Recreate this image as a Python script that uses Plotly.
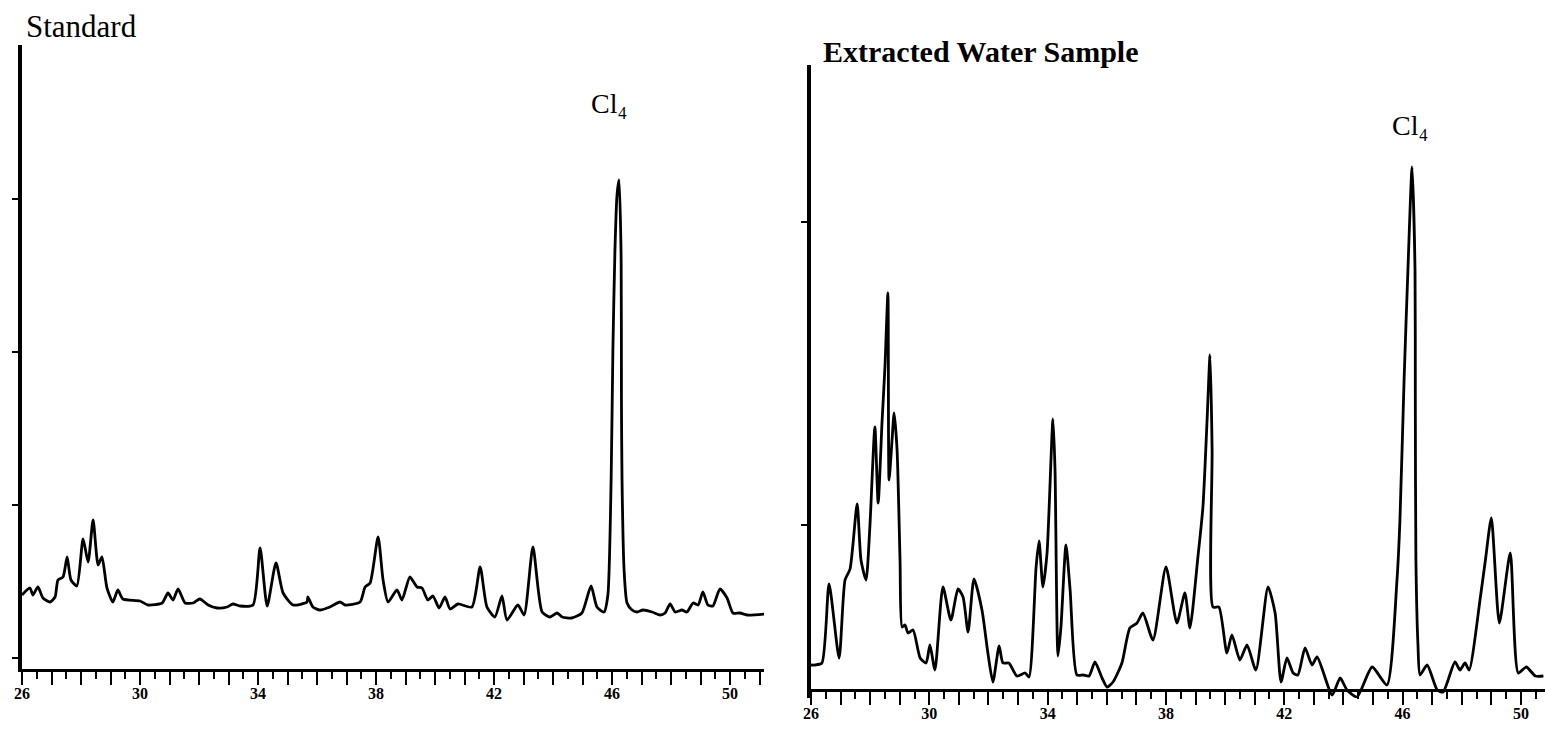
import plotly.graph_objects as go

# ---------------- data ----------------
# retention time (min) and detector response (arbitrary units)
std_time = [26.00, 26.27, 26.37, 26.54, 26.71, 26.95, 27.12, 27.22, 27.39, 27.53,
            27.66, 27.86, 28.07, 28.24, 28.41, 28.58, 28.71, 28.88, 29.08, 29.25,
            29.42, 30.00, 30.27, 30.75, 30.95, 31.12, 31.29, 31.53, 31.80, 32.03,
            32.31, 32.61, 32.95, 33.15, 33.39, 33.83, 34.07, 34.31, 34.61, 34.85,
            35.19, 35.66, 35.69, 35.86, 36.10, 36.44, 36.78, 36.95, 37.46, 37.63,
            37.80, 38.07, 38.24, 38.41, 38.71, 38.88, 39.15, 39.39, 39.56, 39.76,
            39.93, 40.14, 40.34, 40.51, 40.78, 41.25, 41.53, 41.76, 42.03, 42.27,
            42.44, 42.81, 43.02, 43.32, 43.63, 43.90, 44.14, 44.31, 44.64, 44.98,
            45.29, 45.49, 45.73, 45.86, 45.97, 46.03, 46.10, 46.17, 46.24, 46.31,
            46.32, 46.34, 46.41, 46.51, 46.68, 46.85, 47.05, 47.36, 47.63, 47.80,
            47.97, 48.14, 48.37, 48.54, 48.75, 48.92, 49.08, 49.25, 49.42, 49.66,
            49.90, 50.10, 50.34, 50.58, 51.19]
std_signal = [63, 70, 63, 71, 60, 56, 61, 78, 81, 101,
              78, 72, 119, 96, 138, 93, 101, 70, 56, 68,
              59, 57, 53, 55, 65, 58, 69, 55, 55, 59,
              53, 50, 51, 54, 52, 53, 110, 52, 95, 65,
              53, 56, 61, 51, 48, 51, 56, 53, 56, 71,
              75, 121, 78, 56, 68, 58, 81, 71, 70, 58,
              62, 50, 61, 49, 54, 51, 91, 51, 41, 62,
              38, 53, 43, 111, 46, 41, 45, 41, 40, 45,
              72, 51, 46, 63, 178, 308, 408, 463, 478, 398,
              258, 178, 88, 55, 48, 46, 48, 46, 43, 45,
              54, 46, 48, 46, 55, 53, 66, 53, 52, 69,
              60, 45, 45, 43, 44]

sample_time = [26.00, 26.14, 26.37, 26.61, 26.95, 27.15, 27.32, 27.56, 27.69, 27.86,
               27.99, 28.16, 28.27, 28.40, 28.50, 28.60, 28.64, 28.74, 28.81, 28.91,
               29.01, 29.08, 29.18, 29.28, 29.45, 29.69, 29.89, 30.02, 30.19, 30.46,
               30.73, 30.97, 31.14, 31.31, 31.51, 31.78, 31.98, 32.15, 32.36, 32.49,
               32.69, 32.96, 33.24, 33.37, 33.61, 33.71, 33.84, 33.98, 34.18, 34.25,
               34.35, 34.45, 34.62, 34.76, 34.99, 35.20, 35.40, 35.60, 35.84, 36.01,
               36.21, 36.51, 36.78, 37.02, 37.22, 37.56, 38.00, 38.37, 38.64, 38.81,
               39.08, 39.25, 39.39, 39.49, 39.56, 39.59, 39.79, 40.06, 40.23, 40.50,
               40.74, 41.04, 41.45, 41.69, 41.89, 42.09, 42.30, 42.46, 42.70, 42.94,
               43.11, 43.62, 43.89, 44.12, 44.46, 44.97, 45.47, 45.81, 45.91, 46.05,
               46.18, 46.32, 46.42, 46.43, 46.45, 46.52, 46.59, 46.83, 47.17, 47.37,
               47.77, 47.94, 48.11, 48.25, 48.63, 48.80, 49.00, 49.27, 49.64, 49.91,
               50.18, 50.49, 50.76]
sample_signal = [15, 15, 17, 96, 22, 100, 111, 176, 120, 100,
                 153, 253, 177, 257, 313, 387, 200, 240, 267, 230,
                 120, 53, 55, 47, 50, 22, 17, 35, 10, 93,
                 60, 91, 83, 48, 101, 70, 27, -2, 34, 17,
                 17, 4, 7, 3, 113, 139, 93, 127, 261, 210,
                 24, 53, 135, 90, 5, 5, 4, 18, 2, -7,
                 -2, 17, 52, 57, 67, 40, 113, 57, 87, 52,
                 123, 173, 260, 325, 230, 73, 73, 27, 45, 20,
                 35, 10, 93, 67, -2, 22, 7, 5, 32, 15,
                 23, -15, 2, -10, -17, 13, -5, 100, 160, 300,
                 410, 513, 410, 280, 120, 35, 5, 15, -10, -12,
                 18, 10, 17, 10, 83, 120, 162, 57, 127, 7,
                 13, 4, 4]

first_tick = 26          # first labelled retention time
label_every = 4          # a label on every 4th unit tick: 26, 30, ... 50
panel_titles = ["Standard", "Extracted Water Sample"]
peak_label = "Cl\u2084"
peak_label_pos = [(45.9, 555), (46.25, 555)]
std_yticks = [0, 153, 306, 459]
sample_yticks = [155, 458]

# ---------------- layout geometry (pixels) ----------------
W, H = 1545, 737
def px(x):
    return x / W
def py(y):
    return 1 - y / H

fig = go.Figure()
line_style = dict(color="black", width=2.8, shape="spline", smoothing=0.6)
fig.add_trace(go.Scatter(x=std_time, y=std_signal, mode="lines", line=line_style,
                         xaxis="x", yaxis="y", showlegend=False, hoverinfo="x+y"))
fig.add_trace(go.Scatter(x=sample_time, y=sample_signal, mode="lines", line=line_style,
                         xaxis="x2", yaxis="y2", showlegend=False, hoverinfo="x+y"))

tickfont = dict(family="Liberation Serif", size=16, color="black", weight="bold")
xcommon = dict(
    tickmode="linear", tick0=first_tick, dtick=1, ticklabelstep=label_every,
    ticks="outside", ticklen=13, tickwidth=2, tickcolor="black",
    minor=dict(dtick=0.5, tick0=first_tick, ticks="outside", ticklen=7, tickwidth=2,
               tickcolor="black"),
    showline=True, linecolor="black", linewidth=3, showgrid=False, zeroline=False,
    tickfont=tickfont, automargin=False, ticklabelstandoff=-5,
)
ycommon = dict(
    tickmode="array", ticks="outside", ticklen=6, tickwidth=2, tickcolor="black",
    showticklabels=False, showline=True, linecolor="black", linewidth=4,
    showgrid=False, zeroline=False, automargin=False,
)

fig.update_layout(
    width=W, height=H,
    margin=dict(l=0, r=0, t=0, b=0),
    paper_bgcolor="white", plot_bgcolor="white",
    xaxis=dict(domain=[px(22), px(764)], range=[26, 26 + 742 / 29.5], anchor="y", **xcommon),
    yaxis=dict(domain=[py(669), py(45)], range=[-11, 613], anchor="x",
               tickvals=std_yticks, **ycommon),
    xaxis2=dict(domain=[px(811), px(1545)], range=[26, 26 + 734 / 29.58],
                anchor="free", position=py(690), **xcommon),
    yaxis2=dict(domain=[py(698), py(65)], range=[-18, 615], anchor="x2",
                tickvals=sample_yticks, **ycommon),
    annotations=[
        dict(text=panel_titles[0], xref="paper", yref="paper", x=px(24), y=py(27),
             xanchor="left", yanchor="middle", showarrow=False,
             font=dict(family="Liberation Serif", size=31, color="black")),
        dict(text=panel_titles[1], xref="paper", yref="paper", x=px(821), y=py(51),
             xanchor="left", yanchor="middle", showarrow=False,
             font=dict(family="Liberation Serif", size=30, color="black", weight="bold")),
        dict(text=peak_label, xref="x", yref="y", x=peak_label_pos[0][0], y=peak_label_pos[0][1],
             xanchor="center", yanchor="middle", showarrow=False,
             font=dict(family="Liberation Serif", size=28, color="black")),
        dict(text=peak_label, xref="x2", yref="y2", x=peak_label_pos[1][0], y=peak_label_pos[1][1],
             xanchor="center", yanchor="middle", showarrow=False,
             font=dict(family="Liberation Serif", size=28, color="black")),
    ],
)

fig.write_html("out.html")
